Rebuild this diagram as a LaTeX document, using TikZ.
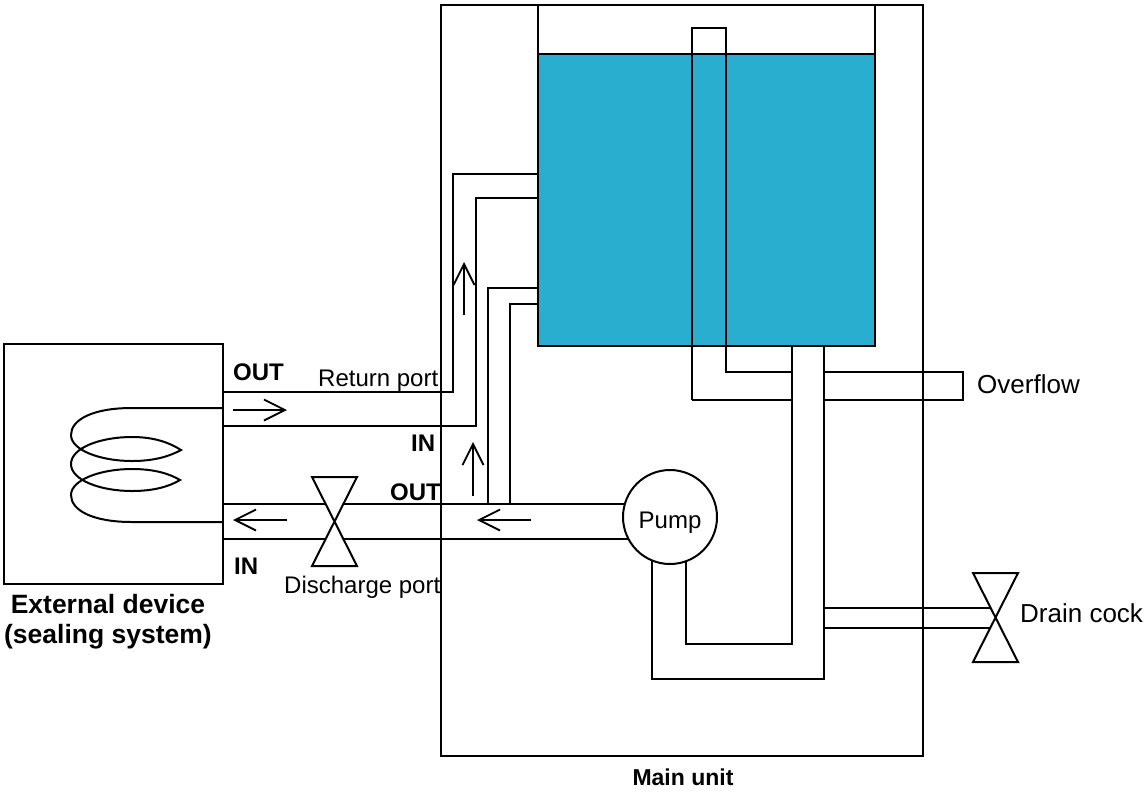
\documentclass[tikz,border=0pt]{standalone}
\usepackage{fontspec}
\setmainfont{Liberation Sans}
\usetikzlibrary{arrows.meta}
\definecolor{tankblue}{RGB}{42,174,207}
\newcommand{\valve}[2]{\draw[pipe] (#1-22.5,#2-44.5) -- (#1+22.5,#2-44.5) -- (#1-22.5,#2+44.5) -- (#1+22.5,#2+44.5) -- cycle;}
\begin{document}
\begin{tikzpicture}[
    x=1pt, y=-1pt,
    pipe/.style={draw, line width=2pt},
    flow/.style={line width=1.8pt, -{Straight Barb[length=21pt,width=21pt,line width=1.8pt]}},
    label/.style={anchor=base west, inner sep=0pt, font=\fontsize{24}{28}\selectfont},
    bigger/.style={anchor=base west, inner sep=0pt, font=\fontsize{26}{30}\selectfont},
    port/.style={anchor=base west, inner sep=0pt, font=\fontsize{24}{28}\selectfont\bfseries},
    title/.style={anchor=base, inner sep=0pt, font=\fontsize{26.5}{30}\selectfont\bfseries}
]
    \useasboundingbox (0,0) rectangle (1147,793);

    % Main unit and tank
    \draw[pipe] (441,5) rectangle (923,756);
    \draw[pipe, fill=tankblue] (538,54) rectangle (875,346);
    \draw[pipe] (538,54) -- (538,5);
    \draw[pipe] (875,54) -- (875,5);

    % External device
    \draw[pipe] (4,344) rectangle (223,584);
    \draw[pipe] (223,408) -- (132,408)
        .. controls (92,408) and (71,420) .. (71,435)
        .. controls (71,450) and (100,461) .. (132,461)
        .. controls (155,461) and (170,456) .. (181,450)
        .. controls (170,443) and (155,437) .. (132,437)
        .. controls (100,437) and (71,448) .. (71,464)
        .. controls (71,480) and (100,491) .. (132,491)
        .. controls (155,491) and (170,486) .. (180,480)
        .. controls (170,474) and (155,469) .. (132,469)
        .. controls (100,469) and (71,480) .. (71,495)
        .. controls (71,510) and (92,522) .. (132,522) -- (223,522);

    % Return line
    \draw[pipe] (223,392) -- (453,392) -- (453,174) -- (538,174);
    \draw[pipe] (223,426) -- (476,426) -- (476,198) -- (538,198);

    % Branch to tank
    \draw[pipe] (488,504) -- (488,288) -- (538,288);
    \draw[pipe] (510,504) -- (510,304) -- (538,304);

    % Discharge line
    \draw[pipe] (223,504) -- (326,504);
    \draw[pipe] (343,504) -- (640,504);
    \draw[pipe] (223,539) -- (325,539);
    \draw[pipe] (344,539) -- (640,539);
    \valve{334.5}{521.5}

    % Overflow
    \draw[pipe] (692,400) -- (692,28) -- (726,28) -- (726,372) -- (792,372);
    \draw[pipe] (692,400) -- (792,400);
    \draw[pipe] (824,372) -- (963,372) -- (963,400) -- (824,400);

    % Pump suction
    \draw[pipe] (792,346) -- (792,644) -- (686,644) -- (686,530);
    \draw[pipe] (824,346) -- (824,679) -- (652,679) -- (652,530);
    \node[circle, draw, line width=2pt, fill=white, minimum size=94pt, inner sep=0pt,
        font=\fontsize{24}{28}\selectfont] (pump) at (670,517) {\raisebox{-11pt}[0pt][0pt]{Pump}};

    % Drain
    \draw[pipe] (824,608) -- (990,608);
    \draw[pipe] (824,628) -- (990,628);
    \valve{995.5}{617.5}

    % Flow arrows
    \coordinate (ra) at (233,410);
    \coordinate (rb) at (287,410);
    \coordinate (da) at (287,520);
    \coordinate (db) at (233,520);
    \coordinate (ua) at (464,315);
    \coordinate (ub) at (464,262);
    \coordinate (va) at (473,496);
    \coordinate (vb) at (473,442);
    \coordinate (pa) at (531,520);
    \coordinate (pb) at (477,520);
    \draw[flow] (ra) -- (rb);
    \draw[flow] (da) -- (db);
    \draw[flow] (ua) -- (ub);
    \draw[flow] (va) -- (vb);
    \draw[flow] (pa) -- (pb);

    % Labels
    \node[port] (out1) at (233,380) {OUT};
    \node[port] (in1) at (411,451) {IN};
    \node[port] (out2) at (390,500) {OUT};
    \node[port] (in2) at (234,574) {IN};
    \node[label] (ret) at (318,386) {Return port};
    \node[label] (dis) at (284,593) {Discharge port};
    \node[bigger] (over) at (977,393) {Overflow};
    \node[bigger] (drain) at (1020,622) {Drain cock};
    \node[title] (ext1) at (108,613) {External device};
    \node[title] (ext2) at (108,643) {(sealing system)};
    \node[title, font=\fontsize{23}{28}\selectfont\bfseries] (main) at (683,785) {Main unit};
\end{tikzpicture}
\end{document}
